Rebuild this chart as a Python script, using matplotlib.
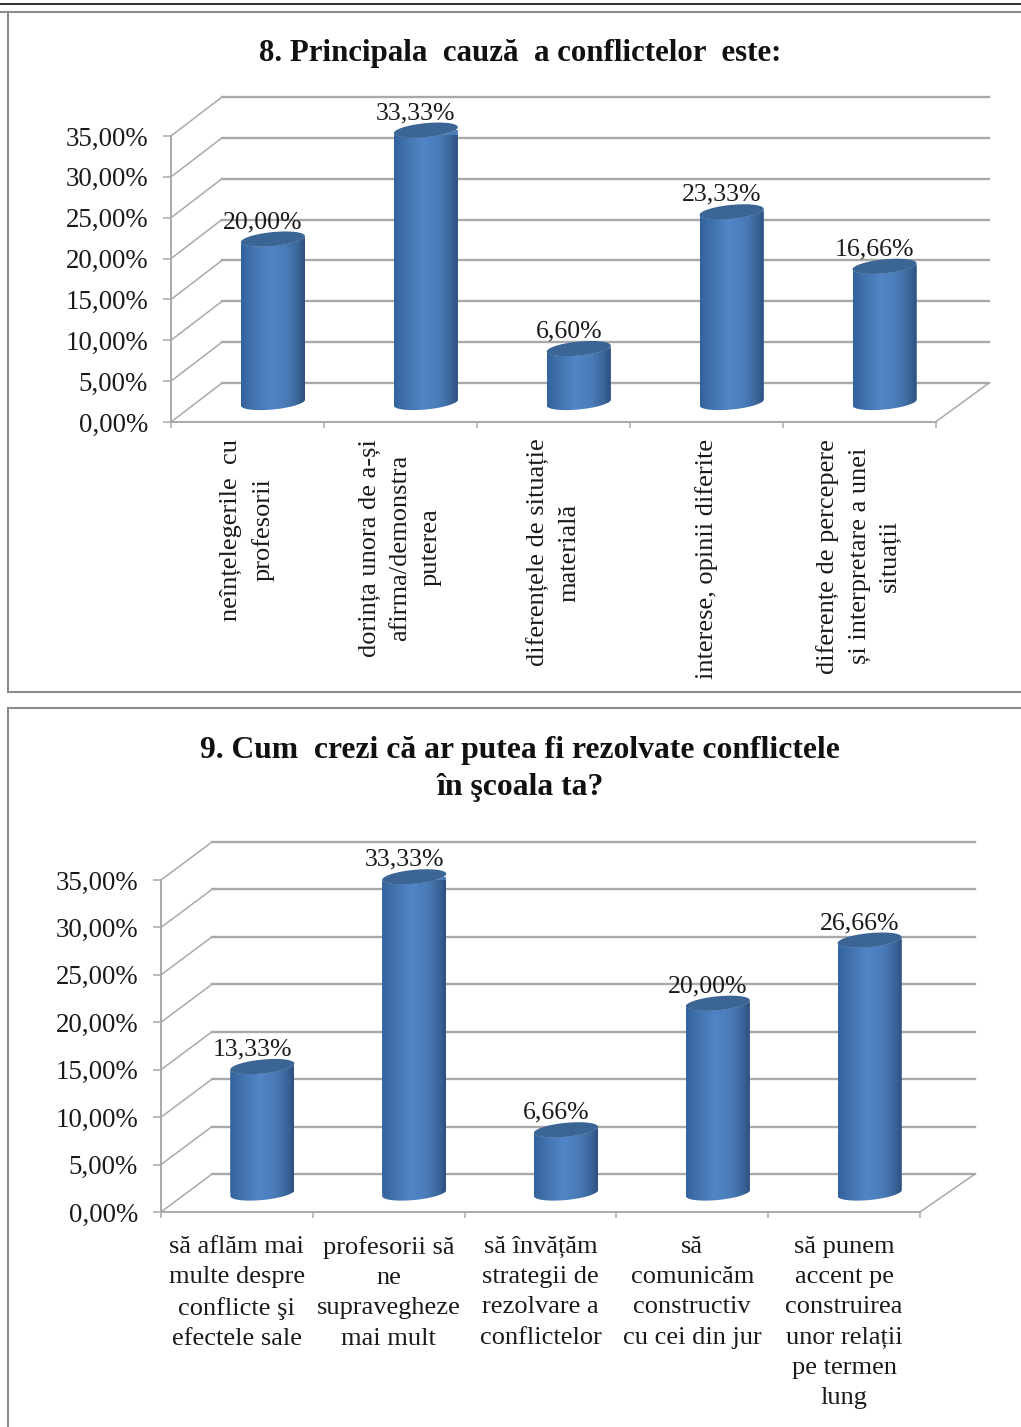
import numpy as np
import matplotlib
matplotlib.use("Agg")
import matplotlib.pyplot as plt
from matplotlib.colors import LinearSegmentedColormap
from matplotlib.lines import Line2D
from matplotlib.path import Path

W, H = 1021, 1427
plt.rcParams['font.family'] = ['Liberation Serif', 'DejaVu Serif']

title_8 = "8. Principala  cauză  a conflictelor  este:"
labels_8 = ["neînțelegerile  cu\nprofesorii",
            "dorința unora de a-și\nafirma/demonstra\nputerea",
            "diferențele de situație\nmaterială",
            "interese, opinii diferite",
            "diferențe de percepere\nși interpretare a unei\nsituații"]
values_8 = [20.00, 33.33, 6.60, 23.33, 16.66]

title_9 = "9. Cum  crezi că ar putea fi rezolvate conflictele\nîn şcoala ta?"
labels_9 = ["să aflăm mai\nmulte despre\nconflicte şi\nefectele sale",
            "profesorii să\nne\nsupravegheze\nmai mult",
            "să învățăm\nstrategii de\nrezolvare a\nconflictelor",
            "să\ncomunicăm\nconstructiv\ncu cei din jur",
            "să punem\naccent pe\nconstruirea\nunor relații\npe termen\nlung"]
values_9 = [13.33, 33.33, 6.66, 20.00, 26.66]

y_ticks = [0, 5, 10, 15, 20, 25, 30, 35]
y_tick_labels = ["0,00%", "5,00%", "10,00%", "15,00%", "20,00%", "25,00%", "30,00%", "35,00%"]

GRID = '#a9a9a9'
TEXT = '#1a1a1a'
cyl = LinearSegmentedColormap.from_list('cyl', [
    (0.00, '#33639c'), (0.15, '#3f70aa'), (0.45, '#5285c7'),
    (0.70, '#4a7cba'), (0.90, '#3a6598'), (1.00, '#2e4f7e')])
grad = np.linspace(0, 1, 128).reshape(1, -1)

fig = plt.figure(figsize=(W / 100, H / 100), dpi=100, facecolor='white')


def hline(y, x0=0, x1=W, c='#8c8c8c', lw=1.5):
    fig.add_artist(Line2D([x0 / W, x1 / W], [1 - y / H, 1 - y / H], color=c, lw=lw))


def vline(x, y0, y1, c='#8c8c8c', lw=1.5):
    fig.add_artist(Line2D([x / W, x / W], [1 - y0 / H, 1 - y1 / H], color=c, lw=lw))


def chart(values, labels, left, right, y0_px, y35_px, back_left, back_right, depth_px, rot, pad, fs_cat, ls):
    ax = fig.add_axes([left / W, 1 - y0_px / H, (right - left) / W, (y0_px - y35_px) / H])
    ax.patch.set_visible(False)
    sx = (right - left) / 5
    sy = (y0_px - y35_px) / 35
    n = len(values)
    dxl, dxr, dy = (back_left - left) / sx, (back_right - left) / sx, depth_px / sy
    # walls and floor
    for t in y_ticks:
        ax.plot([dxl, dxr], [t + dy, t + dy], color=GRID, lw=1.7, clip_on=False, zorder=1)
        ax.plot([0, dxl], [t, t + dy], color=GRID, lw=1.1, clip_on=False, zorder=1)
    ax.plot([n, dxr], [0, dy], color=GRID, lw=1.1, clip_on=False, zorder=1)
    # cylinders
    a = 32 / sx
    b = 7.0 / sy
    k = 3.0 / sy
    t = np.linspace(0, 2 * np.pi, 121)
    centers = np.arange(n) + 0.5
    for i, v in enumerate(values):
        cx = centers[i] + 25.5 / sx
        base = dy / 2
        top = base + v
        # outline: front half of the upper ellipse, front half of the lower ellipse
        tt = np.linspace(0, np.pi, 60)
        xs = np.r_[cx + a * np.cos(tt), cx + a * np.cos(tt + np.pi)]
        ys = np.r_[top - b * np.sin(tt) + k * np.cos(tt),
                   base + b * np.sin(tt + np.pi) + k * np.cos(tt + np.pi)]
        outline = Path(np.c_[xs, ys], closed=False)
        for bar in ax.bar(cx, v, width=2 * a, bottom=base, color='#4a7cba', lw=0, zorder=2):
            bar.set_clip_box(None)
            bar.set_clip_path(outline, ax.transData)
        im = ax.imshow(grad, cmap=cyl, extent=[cx - a, cx + a, base - 2 * b, top + 2 * b],
                       aspect='auto', interpolation='bilinear', zorder=3)
        im.set_clip_box(None)
        im.set_clip_path(outline, ax.transData)
        ax.fill(cx + a * np.cos(t), top + b * np.sin(t) + k * np.cos(t),
                color='#3b6594', lw=0, zorder=4, clip_on=False)
        ax.annotate(f"{v:.2f}".replace('.', ',') + '%', (cx, top), xytext=(-10 * .72, 17 * .72),
                    textcoords='offset points', ha='center', va='center',
                    fontsize=18.5, color=TEXT, zorder=6, annotation_clip=False)
    ax.set_xlim(0, n)
    ax.set_ylim(0, 35)
    for s in ('top', 'right'):
        ax.spines[s].set_visible(False)
    for s in ('left', 'bottom'):
        ax.spines[s].set_color(GRID)
        ax.spines[s].set_linewidth(1.4)
    ax.set_yticks(y_ticks, y_tick_labels, fontsize=19.4, color=TEXT)
    ax.tick_params(axis='y', length=5.5, width=1.1, color=GRID, pad=11)
    ax.set_xticks(np.arange(n + 1), [''] * (n + 1))
    ax.tick_params(axis='x', which='major', length=4.5, width=1.1, color=GRID)
    ax.set_xticks(centers, labels, minor=True)
    ax.tick_params(axis='x', which='minor', length=0, pad=pad, labelsize=fs_cat, labelcolor=TEXT)
    for lab in ax.get_xticklabels(minor=True):
        lab.set_rotation(rot)
        lab.set_multialignment('center')
        lab.set_linespacing(ls)
    return ax


chart(values_8, labels_8, 171, 935.5, 422, 136, 222, 989, 39, 90, 12, 19, 1.5)
chart(values_9, labels_9, 161, 920, 1212, 880, 212, 975, 38, 0, 17, 19, 1.49)

fig.text(520 / W, 1 - 54 / H, title_8, ha='center', va='center', fontsize=22.2,
         fontweight='bold', color='#111111')
fig.text(520 / W, 1 - 769 / H, title_9, ha='center', va='center', fontsize=22.8,
         fontweight='bold', color='#111111', linespacing=1.32)

# page rule and chart frames
hline(4, c='#222222', lw=1.3)
hline(12)
vline(8, 12, 692)
hline(692, 8)
hline(708, 8)
vline(8, 708, H)

fig.savefig('out.png', dpi=100)
